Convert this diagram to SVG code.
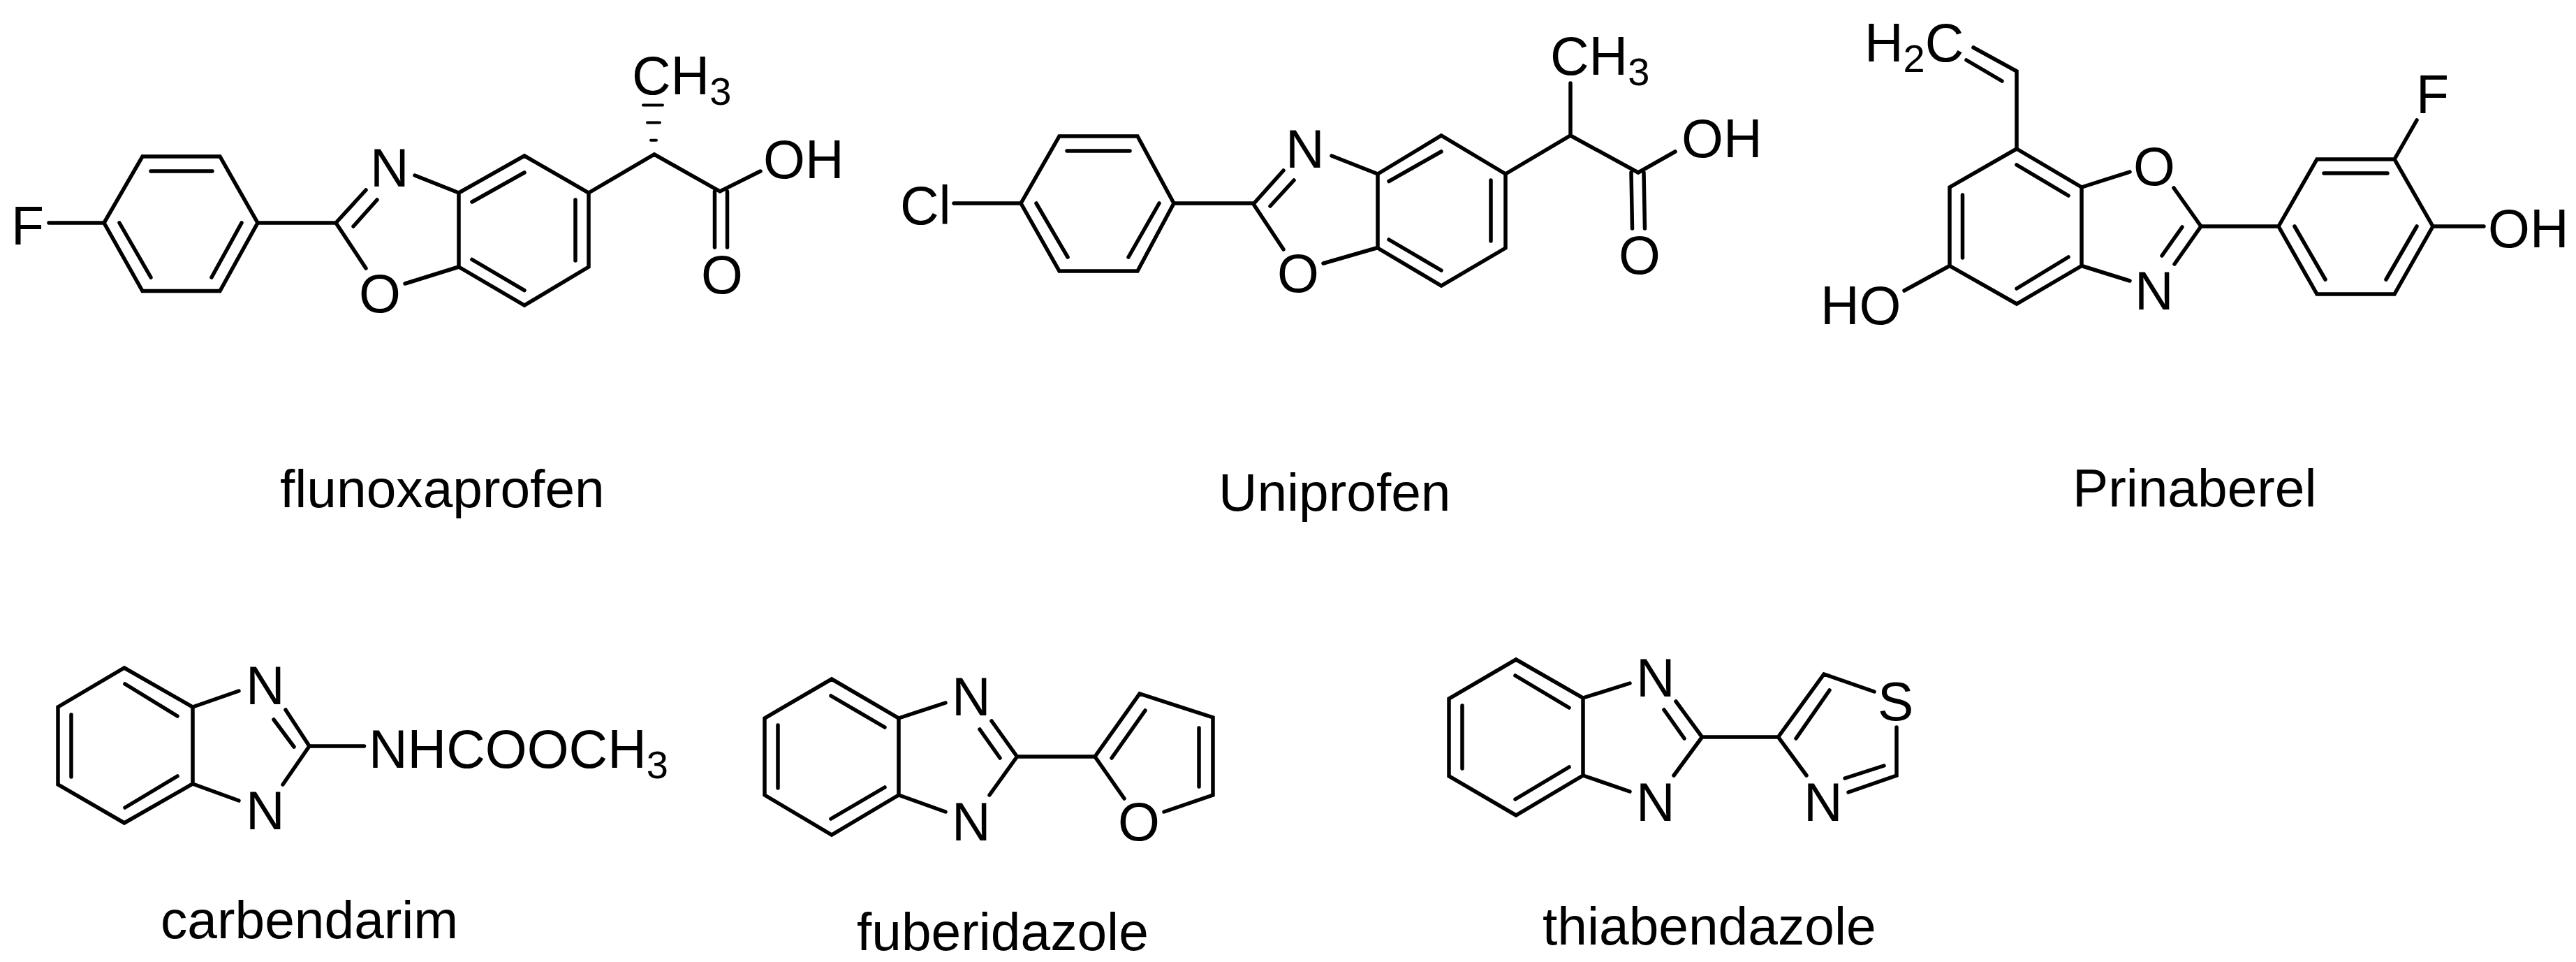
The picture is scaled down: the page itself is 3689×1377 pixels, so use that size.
<svg xmlns="http://www.w3.org/2000/svg" width="3689" height="1377" viewBox="0 0 3689 1377">
<style>
text{font-family:"Liberation Sans",Arial,sans-serif;fill:#000}
.a{font-size:77px}
.n{font-size:76.700px}
.s{font-size:56px}
#bonds path{fill:none;stroke:#000;stroke-width:5.500;stroke-linecap:round;stroke-linejoin:miter}
</style>
<rect width="3689" height="1377" fill="#fff"/>
<g id="bonds">
<path d="M149 319L204 224H315L369 319L315 416.500H204Z M216 245H304 M171 319L216 397 M346 319L303 397 M70 319H149 M369 319H481 M481 319L524 272 M506 324L540 286 M481 319L524 384 M580 406L657 382 M594 251L657 276 M657 276L751 223L843 276V382L751 437L657 382Z M676 289L751 247 M824 286V373 M676 371.500L751 415.600 M843 276L937 221L1031 274L1089 245 M1023.500 274V354 M1041.500 274V354"/>
<path d="M921 150.600H949 M927 175.500H945 M932 200.700H940" style="stroke-width:4"/>
<path d="M1462 291L1517 195H1629L1681 291L1629 388H1517Z M1528 216H1618 M1484 291L1529 368 M1660 291L1616 368 M1366 291H1462 M1681 291H1795 M1795 292L1838 244 M1819 295L1853 258 M1795 292L1838 357 M1895 377L1973 354.500 M1907 223L1973 249 M1973 249L2064 194L2156 249V355L2064 409L1973 355Z M1989 259.500L2064 217 M2135 258V345 M1989 343L2064 387 M2156 249L2249 194L2346 247L2399 217 M2249 194V119 M2336 247L2337.500 327 M2354 247L2355.500 327"/>
<path d="M2888 213L2981 268V380.500L2888 435L2792 380.500V268Z M2888 236L2962 280 M2810.500 279V369 M2888 413L2962 368 M2888 213V102L2826 68 M2867 116L2816 86 M2981 268L3050 246 M3113 269L3152 324 M2981 380.500L3050 402 M3152 324L3114 378 M3125 325L3096 366 M3152 324H3263 M3263 324L3318 228H3429L3484 324L3429 421H3318Z M3328 248H3419 M3286 324L3330 400 M3461 324L3417 400 M3429 228L3461 172 M3484 324H3557 M2792 380.500L2727 416"/>
<path d="M178 956L276 1012V1122L178 1178L83 1123V1012Z M179 979L254 1025 M102 1023V1112 M179 1156L254 1111 M276 1012L342 989 M276 1122L342 1146 M443 1068L409 1016 M421 1069L392 1030 M443 1068L405 1123 M443 1068H521.500"/>
<path d="M1191 972L1287 1028V1138L1191 1195L1095 1138V1028Z M1190 996L1267 1041 M1114 1038V1128 M1190 1172L1267 1127 M1287 1028L1354 1006 M1287 1138L1354 1162 M1456.500 1083L1420 1032 M1432 1085L1403 1044 M1456.500 1083L1417 1138 M1456.500 1083H1568 M1610 1143L1568 1083L1632 993L1737 1027V1138L1667 1162 M1592 1085L1640 1017 M1717 1042V1126"/>
<path d="M2171 944L2267 999V1110L2171 1167L2075 1111V1000Z M2170 967L2247 1013 M2094 1010V1100 M2170 1144L2247 1098 M2267 999L2334 978 M2267 1110L2334 1133 M2437.500 1055L2400 1004 M2412 1057L2383 1016 M2437.500 1055L2397 1110 M2437.500 1055H2546.500 M2587 1110L2546.500 1055L2612 965L2684 990 M2716 1041V1110L2647 1134 M2698 1096L2642 1114 M2572 1057L2620 988"/>
</g>
<g id="flunoxaprofen">
<text class="a" x="16" y="350">F</text>
<text class="a" x="530" y="267">N</text>
<text class="a" x="514" y="447">O</text>
<text class="a" x="1093" y="255">OH</text>
<text class="a" x="1004" y="420">O</text>
<text class="a" x="905" y="135">CH<tspan class="s" dy="15">3</tspan></text>
<text class="n" x="401" y="726">flunoxaprofen</text>
</g>
<g id="uniprofen">
<text class="a" x="1289" y="321">Cl</text>
<text class="a" x="1841" y="240">N</text>
<text class="a" x="1829" y="418">O</text>
<text class="a" x="2408" y="225">OH</text>
<text class="a" x="2318" y="392">O</text>
<text class="a" x="2220" y="107">CH<tspan class="s" dy="15">3</tspan></text>
<text class="n" x="1745" y="731">Uniprofen</text>
</g>
<g id="prinaberel">
<text class="a" x="2670" y="88">H<tspan class="s" dy="15">2</tspan><tspan dy="-15">C</tspan></text>
<text class="a" x="3055" y="265">O</text>
<text class="a" x="3057" y="443">N</text>
<text class="a" x="3460" y="162">F</text>
<text class="a" x="3563" y="354">OH</text>
<text class="a" x="2607" y="464">HO</text>
<text class="n" x="2968" y="725">Prinaberel</text>
</g>
<g id="carbendarim">
<text class="a" x="352" y="1008">N</text>
<text class="a" x="352" y="1187">N</text>
<text class="a" x="528" y="1099">NHCOOCH<tspan class="s" dy="15">3</tspan></text>
<text class="n" x="230" y="1343">carbendarim</text>
</g>
<g id="fuberidazole">
<text class="a" x="1363" y="1024">N</text>
<text class="a" x="1363" y="1203">N</text>
<text class="a" x="1601" y="1203">O</text>
<text class="n" x="1227" y="1360">fuberidazole</text>
</g>
<g id="thiabendazole">
<text class="a" x="2343" y="997">N</text>
<text class="a" x="2343" y="1175">N</text>
<text class="a" x="2583" y="1175">N</text>
<text class="a" x="2689" y="1031">S</text>
<text class="n" x="2209" y="1352">thiabendazole</text>
</g>
</svg>
